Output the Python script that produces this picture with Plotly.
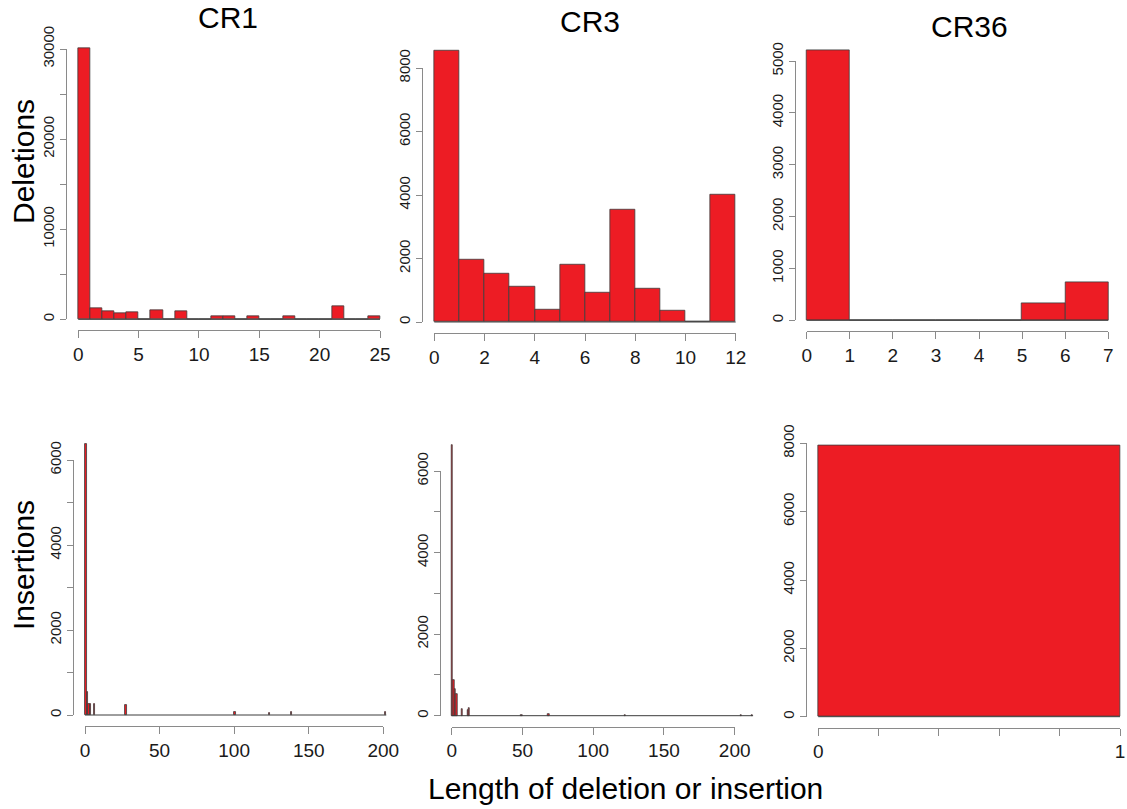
import plotly.graph_objects as go

# ---------------- data ----------------
panel_titles = ["CR1", "CR3", "CR36"]
row_labels = ["Deletions", "Insertions"]
x_label = "Length of deletion or insertion"

# Deletions (bins of width 1 starting at 0)
cr1_del_counts = [30100, 1220, 850, 630, 740, 0, 1000, 0, 850, 0, 0, 330, 330, 0,
                  300, 0, 0, 300, 0, 40, 0, 1400, 0, 0, 370]
cr3_del_counts = [8550, 1950, 1510, 1100, 390, 1820, 910, 3550, 1040, 370, 0, 4000]
cr36_del_counts = [5210, 8, 0, 4, 0, 330, 740]

# Insertions (non-empty bins of width 1: bin start, count)
cr1_ins_len = [0, 1, 2, 3, 6, 27, 100, 123, 138, 201]
cr1_ins_cnt = [6380, 530, 260, 260, 260, 230, 70, 40, 60, 60]
cr1_ins_max = 202
cr3_ins_len = [0, 1, 2, 3, 7, 11, 12, 49, 68, 122, 204, 212]
cr3_ins_cnt = [6640, 880, 650, 530, 160, 150, 180, 10, 30, 25, 10, 20]
cr3_ins_max = 213
cr36_ins_len = [0]
cr36_ins_cnt = [7940]
cr36_ins_max = 1

# tick labels
del_x_ticks = [[0, 5, 10, 15, 20, 25], list(range(0, 13, 2)), list(range(0, 8))]
del_y_ticks = [list(range(0, 30001, 5000)), list(range(0, 8001, 2000)), list(range(0, 5001, 1000))]
del_y_text = [["0", "", "10000", "", "20000", "", "30000"], None, None]
ins_x_ticks = [[0, 50, 100, 150, 200], [0, 50, 100, 150, 200], [0, 0.2, 0.4, 0.6, 0.8, 1.0]]
ins_x_text = [None, None, ["0", "", "", "", "", "1"]]
ins_y_ticks = [list(range(0, 6001, 1000)), list(range(0, 6001, 1000)), list(range(0, 8001, 2000))]
ins_y_text = [["0", "", "2000", "", "4000", "", "6000"], ["0", "", "2000", "", "4000", "", "6000"], None]

# ---------------- layout geometry (pixels) ----------------
W, H = 1127, 809
RED = "#ED1C24"
BORDER = "#3c3c3c"
AXC = "#8a8a8a"
FONT = "Liberation Sans, Arial, sans-serif"

# pixel calibration: (px of first x tick, px of last x tick), (py of first y tick, py of last y tick)
cal = [
    ((78.3, 380.0), (319.3, 49.0)),
    ((434.3, 735.7), (322.0, 68.0)),
    ((806.7, 1108.3), (320.3, 61.0)),
    ((85.0, 383.3), (715.0, 460.0)),
    ((451.7, 734.7), (715.7, 471.0)),
    ((818.3, 1120.0), (716.7, 443.3)),
]

panels = []
for i, c in enumerate([cr1_del_counts, cr3_del_counts, cr36_del_counts]):
    panels.append(dict(starts=list(range(len(c))), counts=c, lo=0, hi=len(c),
                       xt=del_x_ticks[i], xtt=None, yt=del_y_ticks[i], ytt=del_y_text[i]))
for i, (L, C, M) in enumerate([(cr1_ins_len, cr1_ins_cnt, cr1_ins_max),
                               (cr3_ins_len, cr3_ins_cnt, cr3_ins_max),
                               (cr36_ins_len, cr36_ins_cnt, cr36_ins_max)]):
    panels.append(dict(starts=L, counts=C, lo=0, hi=M,
                       xt=ins_x_ticks[i], xtt=ins_x_text[i], yt=ins_y_ticks[i], ytt=ins_y_text[i]))

fig = go.Figure()
layout = {}

def clamp(v):
    return max(0.0, min(1.0, v))

for k, p in enumerate(panels):
    (cx0, cx1), (cy0, cy1) = cal[k]
    xt, yt = p["xt"], p["yt"]
    sx = (cx1 - cx0) / (xt[-1] - xt[0])
    sy = (cy1 - cy0) / (yt[-1] - yt[0])
    pxf = lambda v: cx0 + (v - xt[0]) * sx
    pyf = lambda v: cy0 + (v - yt[0]) * sy
    inv_x = lambda px: xt[0] + (px - cx0) / sx
    inv_y = lambda py: yt[0] + (py - cy0) / sy

    span = p["hi"] - p["lo"]
    ux0, ux1 = p["lo"] - 0.04 * span, p["hi"] + 0.04 * span
    ymax = max(p["counts"])
    uy0, uy1 = -0.04 * ymax, 1.04 * ymax

    dx0, dx1 = pxf(ux0), pxf(ux1)
    if dx1 > W:
        dx1 = W
        ux1 = inv_x(W)
    dy_top, dy_bot = pyf(uy1), pyf(uy0)
    if dy_top < 0:
        dy_top = 0
        uy1 = inv_y(0)

    n = k + 1
    dn = k + 7
    xa = "x" if n == 1 else f"x{n}"
    ya = "y" if n == 1 else f"y{n}"
    layout["xaxis" if n == 1 else f"xaxis{n}"] = dict(
        domain=[dx0 / W, dx1 / W], range=[ux0, ux1], visible=False, anchor=ya,
        automargin=False, fixedrange=True)
    layout["yaxis" if n == 1 else f"yaxis{n}"] = dict(
        domain=[1 - dy_bot / H, 1 - dy_top / H], range=[uy0, uy1], visible=False,
        anchor=xa, automargin=False, fixedrange=True)

    # baseline drawn by the empty bins
    fig.add_trace(go.Scatter(x=[p["lo"], p["hi"]], y=[0, 0], mode="lines",
                             line=dict(color=BORDER, width=1), xaxis=xa, yaxis=ya,
                             hoverinfo="skip", showlegend=False))
    fig.add_trace(go.Bar(x=[s + 0.5 for s in p["starts"]], y=p["counts"], width=1,
                         marker=dict(color=RED, line=dict(color=BORDER, width=0.8)),
                         xaxis=xa, yaxis=ya, showlegend=False))

    # R-style detached axes
    layout[f"xaxis{dn}"] = dict(
        domain=[pxf(xt[0]) / W, pxf(xt[-1]) / W], range=[xt[0], xt[-1]],
        anchor="free", position=clamp(1 - dy_bot / H), side="bottom",
        tickmode="array", tickvals=xt,
        ticktext=p["xtt"] if p["xtt"] else [str(v) for v in xt],
        ticks="outside", ticklen=7, tickwidth=1, tickcolor=AXC,
        showline=True, linecolor=AXC, linewidth=1, showgrid=False, zeroline=False,
        automargin=False,
        tickfont=dict(family=FONT, size=19, color="#1a1a1a"), fixedrange=True)
    layout[f"yaxis{dn}"] = dict(
        domain=[1 - cy0 / H, 1 - cy1 / H], range=[yt[0], yt[-1]],
        anchor="free", position=clamp(dx0 / W), side="left",
        tickmode="array", tickvals=yt,
        ticktext=p["ytt"] if p["ytt"] else [str(v) for v in yt],
        tickangle=-90,
        ticks="outside", ticklen=6, tickwidth=1, tickcolor=AXC,
        showline=True, linecolor=AXC, linewidth=1, showgrid=False, zeroline=False,
        automargin=False,
        tickfont=dict(family=FONT, size=15, color="#1a1a1a"), fixedrange=True)
    fig.add_trace(go.Scatter(x=[xt[0]], y=[yt[0]], mode="markers",
                             marker=dict(opacity=0), xaxis=f"x{dn}", yaxis=f"y{dn}",
                             hoverinfo="skip", showlegend=False))

annotations = []
title_pos = [(228, 18), (590, 22), (969, 26)]
for t, (x, y) in zip(panel_titles, title_pos):
    annotations.append(dict(text=t, x=x / W, y=1 - y / H, xref="paper", yref="paper",
                            showarrow=False, xanchor="center", yanchor="middle",
                            font=dict(family=FONT, size=30, color="black")))
for t, y in zip(row_labels, [162, 565]):
    annotations.append(dict(text=t, x=23 / W, y=1 - y / H, xref="paper", yref="paper",
                            showarrow=False, textangle=-90, xanchor="center", yanchor="middle",
                            font=dict(family=FONT, size=30, color="black")))
annotations.append(dict(text=x_label, x=625 / W, y=1 - 788 / H, xref="paper", yref="paper",
                        showarrow=False, xanchor="center", yanchor="middle",
                        font=dict(family=FONT, size=30, color="black")))

fig.update_layout(
    template="none",
    width=W, height=H, margin=dict(l=0, r=0, t=0, b=0, pad=0),
    paper_bgcolor="white", plot_bgcolor="rgba(0,0,0,0)",
    bargap=0, barmode="overlay", showlegend=False,
    annotations=annotations, **layout)

fig.write_html("out.html", config={"displayModeBar": False},
               post_script="document.body.style.margin='0';document.body.style.overflow='hidden';")
